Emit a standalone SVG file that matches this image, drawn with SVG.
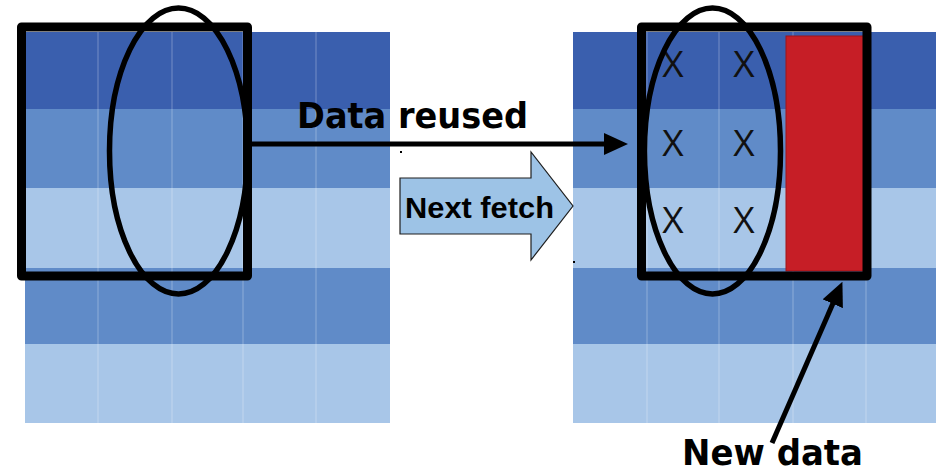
<svg xmlns="http://www.w3.org/2000/svg" width="936" height="470" viewBox="0 0 936 470">
  <style>
    .r1 { fill: #3A5FAE; }
    .r2 { fill: #608BC8; }
    .r3 { fill: #A8C6E8; }
    .col { stroke: #FFFFFF; stroke-opacity: 0.3; stroke-width: 1; }
    .window { fill: none; stroke: #000; stroke-width: 9; stroke-linejoin: round; }
    .reach { fill: none; stroke: #000; stroke-width: 5.5; }
    .wire { fill: none; stroke: #000; stroke-width: 5; }
    .label { font-family: "DejaVu Sans", "Liberation Sans", sans-serif; font-weight: bold; font-size: 35px; fill: #000; }
    .mark { font-family: "Open Sans", "Liberation Sans", sans-serif; font-weight: 400; font-size: 37px; fill: #111; text-anchor: middle; }
  </style>
  <defs>
    <marker id="head" markerUnits="userSpaceOnUse" markerWidth="24" markerHeight="22" refX="3" refY="11" orient="auto">
      <path d="M0,0 L24,11 L0,22 z" fill="#000"/>
    </marker>
  </defs>

  <rect width="936" height="470" fill="#FFFFFF"/>

  <!-- matrix before the fetch -->
  <g id="grid-before">
    <rect class="r1" x="25" y="32" width="365" height="77"/>
    <rect class="r2" x="25" y="109" width="365" height="79"/>
    <rect class="r3" x="25" y="188" width="365" height="80"/>
    <rect class="r2" x="25" y="268" width="365" height="76"/>
    <rect class="r3" x="25" y="344" width="365" height="79"/>
    <line class="col" x1="98" y1="32" x2="98" y2="423"/>
    <line class="col" x1="172" y1="32" x2="172" y2="423"/>
    <line class="col" x1="243" y1="32" x2="243" y2="423"/>
    <line class="col" x1="316" y1="32" x2="316" y2="423"/>
  </g>

  <!-- matrix after the fetch -->
  <g id="grid-after">
    <rect class="r1" x="573" y="32" width="363" height="77"/>
    <rect class="r2" x="573" y="109" width="363" height="79"/>
    <rect class="r3" x="573" y="188" width="363" height="80"/>
    <rect class="r2" x="573" y="268" width="363" height="76"/>
    <rect class="r3" x="573" y="344" width="363" height="79"/>
    <line class="col" x1="647" y1="32" x2="647" y2="423"/>
    <line class="col" x1="719" y1="32" x2="719" y2="423"/>
    <line class="col" x1="793" y1="32" x2="793" y2="423"/>
    <line class="col" x1="866" y1="32" x2="866" y2="423"/>
  </g>

  <!-- newly loaded column -->
  <g id="new-data">
    <rect x="786" y="36" width="80" height="235" fill="#C61E26" stroke="#9E1419" stroke-width="1"/>
  </g>

  <!-- reused cells -->
  <g id="reused-marks">
    <text class="mark" x="673" y="77">X</text>
    <text class="mark" x="744" y="77">X</text>
    <text class="mark" x="673" y="156">X</text>
    <text class="mark" x="744" y="156">X</text>
    <text class="mark" x="673" y="233">X</text>
    <text class="mark" x="744" y="233">X</text>
  </g>

  <!-- fetch windows -->
  <g id="window-before">
    <rect class="window" x="21.5" y="27" width="226" height="249"/>
    <ellipse class="reach" cx="178.5" cy="151" rx="69" ry="143"/>
  </g>
  <g id="window-after">
    <rect class="window" x="641.5" y="27" width="225.5" height="249"/>
    <ellipse class="reach" cx="712.5" cy="151" rx="68" ry="143"/>
  </g>

  <!-- block arrow -->
  <g id="next-fetch">
    <polygon points="400,178 531,178 531,152 573,206 531,260 531,234 400,234" fill="#9DC3E6" stroke="#1E1E1E" stroke-width="1.2" stroke-linejoin="miter"/>
    <text x="405" y="218" font-family="Liberation Sans, Arial, sans-serif" font-weight="bold" font-size="30" textLength="149" lengthAdjust="spacingAndGlyphs">Next fetch</text>
    <rect x="400" y="151" width="2" height="2" fill="#000"/>
    <rect x="573" y="261" width="2" height="2" fill="#000"/>
  </g>

  <!-- connectors -->
  <g id="connectors">
    <line class="wire" x1="252" y1="144" x2="607" y2="144" marker-end="url(#head)"/>
    <line class="wire" x1="772" y1="443" x2="834" y2="301" marker-end="url(#head)"/>
  </g>

  <!-- labels -->
  <g id="labels">
    <text class="label" x="297" y="128" textLength="231" lengthAdjust="spacingAndGlyphs">Data reused</text>
    <text class="label" x="682" y="465" textLength="181" lengthAdjust="spacingAndGlyphs">New data</text>
  </g>
</svg>
